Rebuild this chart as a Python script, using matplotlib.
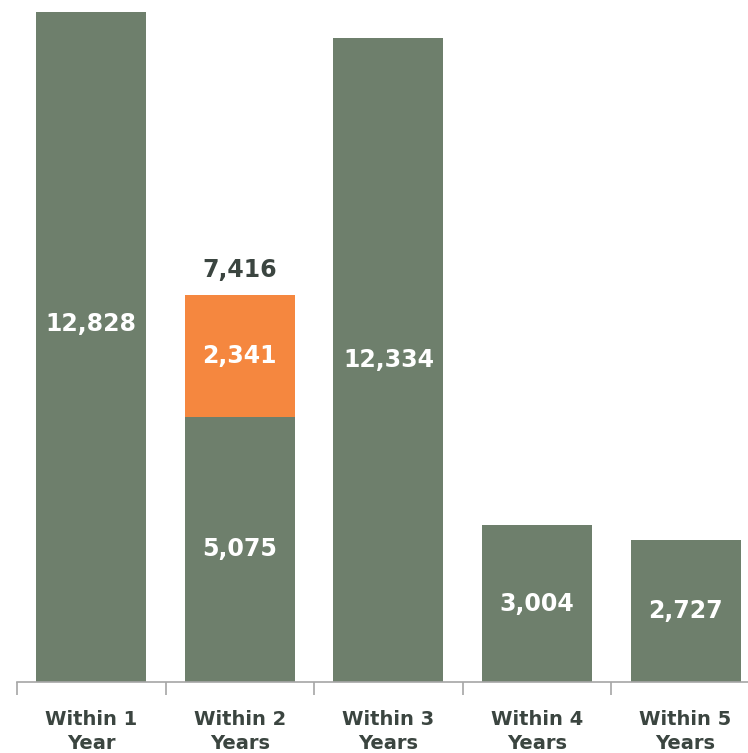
import numpy as np
import matplotlib
matplotlib.use('agg')
import matplotlib.pyplot as plt

categories = ['Within 1\nYear', 'Within 2\nYears', 'Within 3\nYears', 'Within 4\nYears', 'Within 5\nYears']
base_vals = [12828, 5075, 12334, 3004, 2727]
extra_vals = [0, 2341, 0, 0, 0]

green = '#6E7F6C'
orange = '#F5873F'
dark = '#3B4540'

fig = plt.figure(figsize=(7.48, 7.53), dpi=100)
ax = fig.add_axes([17 / 748, 71 / 753, 1 - 17 / 748, 682 / 753])

x = np.arange(len(categories))
ax.bar(x, base_vals, width=0.74, color=green)
ax.bar(x, extra_vals, width=0.74, bottom=base_vals, color=orange)

# the first label sits a bit above the middle of its bar in the original
label_shift = [450, 0, 0, 0, 0]

for i in range(len(categories)):
    ax.text(x[i], base_vals[i] / 2 + label_shift[i], f'{base_vals[i]:,}', ha='center', va='center',
            color='white', fontsize=17, fontweight='bold')
    if extra_vals[i] > 0:
        ax.text(x[i], base_vals[i] + extra_vals[i] / 2, f'{extra_vals[i]:,}', ha='center',
                va='center', color='white', fontsize=17, fontweight='bold')
        total = base_vals[i] + extra_vals[i]
        ax.text(x[i], total + 250, f'{total:,}', ha='center', va='bottom',
                color=dark, fontsize=17, fontweight='bold')

ax.set_xlim(-0.5, 4.42)
ax.set_ylim(0, 13058)

for s in ['top', 'right', 'left']:
    ax.spines[s].set_visible(False)
ax.spines['bottom'].set_color('#A6A6A6')
ax.spines['bottom'].set_linewidth(1.2)
ax.set_yticks([])
ax.set_xticks(x)
ax.set_xticklabels(categories, fontsize=14, fontweight='bold', color=dark, linespacing=1.35)
ax.tick_params(axis='x', which='major', length=0, pad=20)
ax.set_xticks(np.arange(-0.5, 4.5, 1), minor=True)
ax.tick_params(axis='x', which='minor', length=9, width=1.2, color='#A6A6A6')

fig.savefig('out.png', dpi=100)
